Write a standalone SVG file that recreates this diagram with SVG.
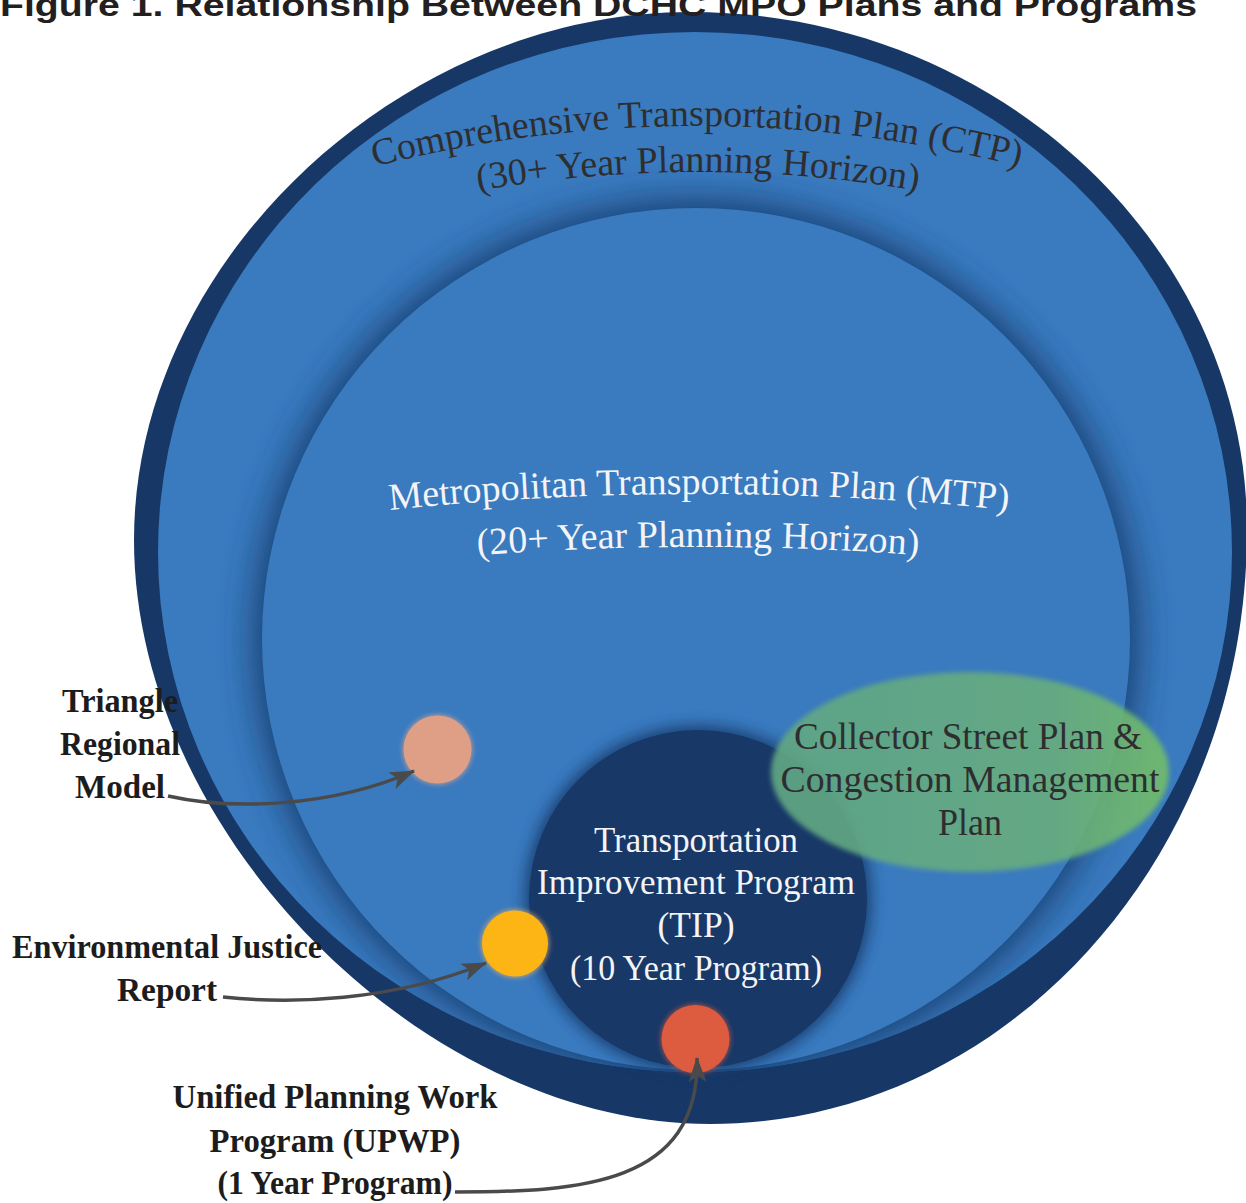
<svg xmlns="http://www.w3.org/2000/svg" width="1246" height="1203" viewBox="0 0 1246 1203">
<style>
.lbl{font-family:"Liberation Serif",serif;font-weight:bold;font-size:33px;fill:#1c1c1c;text-anchor:middle}
.ser{font-family:"Liberation Serif",serif;text-anchor:middle}
.wht{fill:#f4f4f6}
.dk{fill:#2e2e30}
.conn{fill:none;stroke:#4a4a4a;stroke-width:3.5;marker-end:url(#ah)}
</style>
<defs>
<marker id="ah" markerUnits="userSpaceOnUse" markerWidth="28" markerHeight="22" refX="24" refY="11" orient="auto">
<path d="M0,2 L25,11 L0,20 L6,11 z" fill="#4a4a4a"/>
</marker>
<filter id="blurBig" x="-20%" y="-20%" width="140%" height="140%"><feGaussianBlur stdDeviation="17"/></filter>
<filter id="blurMid" x="-20%" y="-20%" width="140%" height="140%"><feGaussianBlur stdDeviation="7"/></filter>
<filter id="blurSm" x="-20%" y="-20%" width="140%" height="140%"><feGaussianBlur stdDeviation="2.5"/></filter>
<clipPath id="ctpClip"><ellipse cx="695" cy="552" rx="537" ry="520"/></clipPath>
<linearGradient id="greenG" x1="0" y1="0" x2="1" y2="0">
<stop offset="0" stop-color="#62a884"/>
<stop offset="0.7" stop-color="#68ad7e"/>
<stop offset="1" stop-color="#73bd68"/>
</linearGradient>
<path id="arcCtp1" d="M297,189.1 A1300,1300 0 0 1 1097,189.1"/>
<path id="arcCtp2" d="M398,207.1 A1300,1300 0 0 1 998,207.1"/>
<path id="arcMtp1" d="M349,514.5 A3000,3000 0 0 1 1049,514.5"/>
<path id="arcMtp2" d="M448,557.4 A3000,3000 0 0 1 948,557.4"/>
</defs>

<g id="ctp">
<path d="M134,540 C134,262 400,12 690,12 C996,12 1247,245 1247,530 C1247,857 1005,1124 710,1124 C422,1124 134,832 134,540 Z" fill="#173867"/>
<ellipse cx="695" cy="552" rx="537" ry="520" fill="#3a7abf"/>
<text class="ser dk" font-size="38"><textPath href="#arcCtp1" startOffset="50%">Comprehensive Transportation Plan (CTP)</textPath></text>
<text class="ser dk" font-size="38"><textPath href="#arcCtp2" startOffset="50%">(30+ Year Planning Horizon)</textPath></text>
</g>

<g id="mtp">
<g clip-path="url(#ctpClip)">
<ellipse cx="696" cy="639" rx="442" ry="439" fill="#163a6a" opacity="0.9" filter="url(#blurBig)"/>
</g>
<ellipse cx="696" cy="639" rx="434" ry="431" fill="#3a7abf"/>
<text class="ser wht" font-size="38"><textPath href="#arcMtp1" startOffset="50%">Metropolitan Transportation Plan (MTP)</textPath></text>
<text class="ser wht" font-size="38"><textPath href="#arcMtp2" startOffset="50%">(20+ Year Planning Horizon)</textPath></text>
</g>

<g id="tip">
<circle cx="698" cy="899" r="174" fill="#173867" opacity="0.8" filter="url(#blurMid)"/>
<circle cx="698" cy="899" r="169" fill="#183867"/>
<text class="ser wht" font-size="35" x="696" y="852" textLength="204" lengthAdjust="spacingAndGlyphs">Transportation</text>
<text class="ser wht" font-size="35" x="696" y="894" textLength="318" lengthAdjust="spacingAndGlyphs">Improvement Program</text>
<text class="ser wht" font-size="35" x="696" y="937" textLength="77" lengthAdjust="spacingAndGlyphs">(TIP)</text>
<text class="ser wht" font-size="35" x="696" y="980" textLength="252" lengthAdjust="spacingAndGlyphs">(10 Year Program)</text>
</g>

<g id="cmp">
<ellipse cx="970" cy="772" rx="199" ry="100" fill="url(#greenG)" opacity="0.9" filter="url(#blurSm)"/>
<text class="ser dk" font-size="37" x="968" y="749" textLength="348" lengthAdjust="spacingAndGlyphs">Collector Street Plan &amp;</text>
<text class="ser dk" font-size="37" x="970" y="792" textLength="379" lengthAdjust="spacingAndGlyphs">Congestion Management</text>
<text class="ser dk" font-size="37" x="970" y="835" textLength="64" lengthAdjust="spacingAndGlyphs">Plan</text>
</g>

<g id="trm">
<circle cx="437.5" cy="749.5" r="35" fill="#e2a88c" opacity="0.7" filter="url(#blurSm)"/>
<circle cx="437.5" cy="749.5" r="34" fill="#de9f86"/>
</g>
<g id="ej">
<circle cx="515" cy="943.5" r="34" fill="#f5b75a" opacity="0.7" filter="url(#blurSm)"/>
<circle cx="515" cy="943.5" r="33" fill="#fdb515"/>
</g>
<g id="upwp">
<circle cx="695.5" cy="1039" r="35" fill="#c85a45" opacity="0.7" filter="url(#blurSm)"/>
<circle cx="695.5" cy="1039" r="34" fill="#dd5b3e"/>
</g>

<g id="labels">
<text class="lbl" x="120" y="712" textLength="116" lengthAdjust="spacingAndGlyphs">Triangle</text>
<text class="lbl" x="120" y="755" textLength="120" lengthAdjust="spacingAndGlyphs">Regional</text>
<text class="lbl" x="120" y="798" textLength="90" lengthAdjust="spacingAndGlyphs">Model</text>
<text class="lbl" x="167" y="958" textLength="310" lengthAdjust="spacingAndGlyphs">Environmental Justice</text>
<text class="lbl" x="167" y="1001" textLength="100" lengthAdjust="spacingAndGlyphs">Report</text>
<text class="lbl" x="335" y="1108" textLength="325" lengthAdjust="spacingAndGlyphs">Unified Planning Work</text>
<text class="lbl" x="335" y="1152" textLength="251" lengthAdjust="spacingAndGlyphs">Program (UPWP)</text>
<text class="lbl" x="335" y="1194" textLength="235" lengthAdjust="spacingAndGlyphs">(1 Year Program)</text>
</g>

<g id="connectors">
<path class="conn" d="M168,796 C230,810 330,808 414,771"/>
<path class="conn" d="M223,997 C290,1004 390,1002 486,963"/>
<path class="conn" d="M455,1192 C580,1192 700,1185 697,1058"/>
</g>

<g id="title">
<text x="0" y="16" font-family="Liberation Sans, Arial, sans-serif" font-weight="bold" font-size="31" fill="#231f20" textLength="1197" lengthAdjust="spacingAndGlyphs">Figure 1. Relationship Between DCHC MPO Plans and Programs</text>
</g>
</svg>
